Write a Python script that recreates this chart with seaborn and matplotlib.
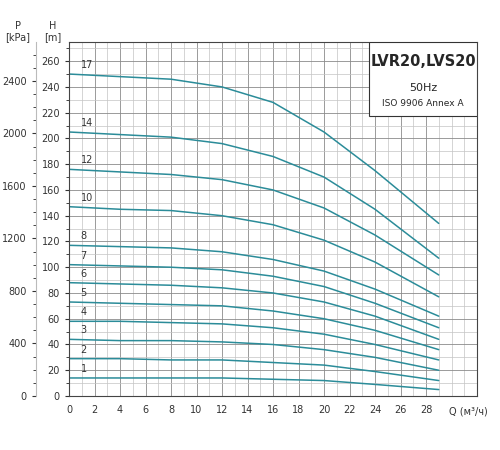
import numpy as np
import pandas as pd
import seaborn as sns
import matplotlib.pyplot as plt
from matplotlib.ticker import MultipleLocator
from matplotlib.patches import Rectangle

# flow points (m3/h) and head (m)
q = [0, 4, 8, 12, 16, 20, 24, 29]
heads = {
    17: [250, 248, 246, 240, 228, 205, 175, 134],
    14: [205, 203, 201, 196, 186, 170, 145, 107],
    12: [176, 174, 172, 168, 160, 146, 125, 94],
    10: [147, 145, 144, 140, 133, 121, 104, 77],
    8: [117, 116, 115, 112, 106, 97, 83, 62],
    7: [102, 101, 100, 98, 93, 85, 72, 53],
    6: [88, 87, 86, 84, 80, 73, 62, 44],
    5: [73, 72, 71, 70, 66, 60, 51, 36],
    4: [58, 58, 57, 56, 53, 48, 40, 28],
    3: [44, 43, 43, 42, 40, 36, 30, 20],
    2: [29, 29, 28, 28, 26, 24, 19, 12],
    1: [14, 14, 14, 14, 13, 12, 9, 5],
}
p_ticks = [0, 400, 800, 1200, 1600, 2000, 2400]

rows = []
for st, h in heads.items():
    for qq, hh in zip(q, h):
        rows.append({'Q': qq, 'H': hh, 'stage': st})
df = pd.DataFrame(rows)

sns.set_style('white')
fig = plt.figure(figsize=(5, 4.5), dpi=100)
ax = fig.add_axes([0.138, 0.12, 0.816, 0.787])
col = '#2b8c99'
sns.lineplot(data=df, x='Q', y='H', units='stage', estimator=None,
             color=col, lw=1.1, ax=ax)

ax.set_xlim(0, 32)
ax.set_ylim(0, 275)
ax.set_xticks(range(0, 29, 2))
ax.xaxis.set_minor_locator(MultipleLocator(1))
ax.set_yticks(range(0, 261, 20))
ax.yaxis.set_minor_locator(MultipleLocator(10))
ax.grid(which='major', color='#8a8a8a', lw=0.6)
ax.grid(which='minor', color='#c4c4c4', lw=0.5)
ax.tick_params(labelsize=7, colors='#333333', length=3)
ax.tick_params(which='minor', length=2)
for s in ax.spines.values():
    s.set_color('#444444')
    s.set_linewidth(0.8)
ax.set_xlabel('')
ax.set_ylabel('')

for st, h in heads.items():
    ax.text(0.9, h[0] + 3, str(st), fontsize=7, color='#333333', va='bottom')

# pressure scale (kPa) on a separate left axis
ax2 = ax.twinx()
ax2.set_ylim(0, 275 * 9.81)
ax2.yaxis.set_ticks_position('left')
ax2.yaxis.set_label_position('left')
ax2.spines['left'].set_position(('outward', 24))
ax2.spines['left'].set_color('#bbbbbb')
for s in ['right', 'top', 'bottom']:
    ax2.spines[s].set_visible(False)
ax2.set_yticks(p_ticks)
ax2.yaxis.set_minor_locator(MultipleLocator(100))
ax2.tick_params(labelsize=7, colors='#333333', length=3)
ax2.tick_params(which='minor', length=2)

fig.text(0.105, 0.93, 'H\n[m]', fontsize=7, ha='center', va='center', color='#333333')
fig.text(0.035, 0.93, 'P\n[kPa]', fontsize=7, ha='center', va='center', color='#333333')
ax.text(29.8, -12, 'Q (м³/ч)', fontsize=7, va='center', color='#333333', clip_on=False)

ax.add_patch(Rectangle((0.735, 0.79), 0.265, 0.21, transform=ax.transAxes,
                       fc='white', ec='#333333', lw=0.8, zorder=5))
ax.text(0.868, 0.965, 'LVR20,LVS20', transform=ax.transAxes, ha='center', va='top',
        fontsize=10.5, fontweight='bold', zorder=6)
ax.text(0.868, 0.885, '50Hz', transform=ax.transAxes, ha='center', va='top', fontsize=8, zorder=6)
ax.text(0.868, 0.84, 'ISO 9906 Annex A', transform=ax.transAxes, ha='center', va='top',
        fontsize=6.5, zorder=6)

fig.savefig('out.png', dpi=100)
